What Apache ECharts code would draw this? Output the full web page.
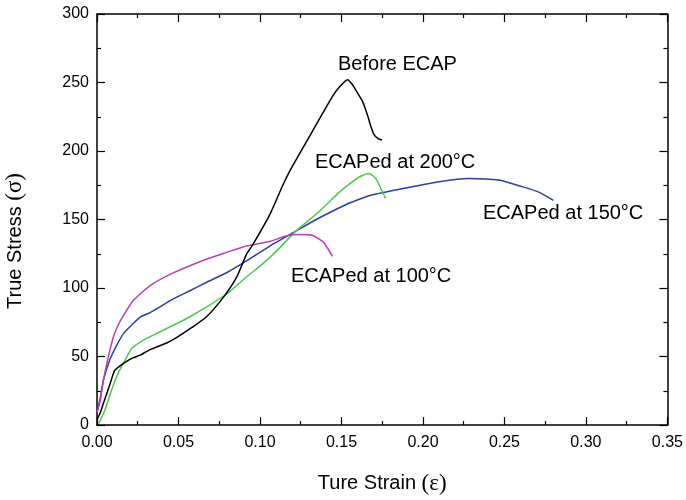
<!DOCTYPE html>
<html><head><meta charset="utf-8">
<script src="https://cdn.jsdelivr.net/npm/echarts@6/dist/echarts.min.js"></script>
<style>html,body{margin:0;padding:0;background:#fff}#c{width:686px;height:500px}</style>
</head><body><div id="c"></div>
<script>
// Before ECAP
const beforeStrain = [0,0.002,0.004,0.008,0.011,0.0163,0.022,0.0265,0.0326,0.043,0.049,0.058,0.067,0.0774,0.0856,0.0917,0.0957,0.106,0.114,0.119,0.132,0.1446,0.149,0.1537,0.157,0.16,0.163,0.166,0.168,0.170,0.1725,0.175];
const beforeStress = [4,9,16,30,40,45,49,51,55,60,64,71,78.8,93,107.7,124.6,131.8,153.5,175,187,214,240,247,252,248,242,236,226,218,212,209,208];
// ECAPed at 200°C
const e200Strain = [0.001,0.005,0.009,0.013,0.0173,0.0214,0.0285,0.0326,0.0468,0.057,0.067,0.08,0.0917,0.104,0.111,0.122,0.1365,0.1487,0.155,0.161,0.167,0.171,0.174,0.177];
const e200Stress = [1,11.3,25.8,37.8,47.5,56,62,64.5,72.8,79,86,96,108,120,128,141.5,156,170,176,181,183.5,180,173,165.5];
// ECAPed at 150°C
const e150Strain = [0,0.002,0.004,0.008,0.012,0.0163,0.0265,0.0326,0.0468,0.057,0.067,0.08,0.0917,0.106,0.122,0.1345,0.1487,0.155,0.169,0.1895,0.21,0.228,0.2465,0.2608,0.271,0.280];
const e150Stress = [9,20,33,48,58,66.7,78.8,82,92,98,104,111.5,119.8,130.6,141.5,150,158.6,162,168,173,177.6,180,178.8,174,170,164];
// ECAPed at 100°C
const e100Strain = [0,0.002,0.004,0.007,0.010,0.013,0.0163,0.0224,0.0326,0.0468,0.067,0.0795,0.0917,0.106,0.116,0.125,0.132,0.1385,0.1415,0.1445];
const e100Stress = [9,18,33,50,64,73,80,91,101.7,111,121,126,130.7,134,138,139,138.5,134,129,123];

const xTicks = [0,0.05,0.10,0.15,0.20,0.25,0.30,0.35];
const yTicks = [0,50,100,150,200,250,300];

const zip = (a,b)=>a.map((v,i)=>[v,b[i]]);
const chart = echarts.init(document.getElementById('c'), null, {renderer:'canvas'});
const FONT = 'Liberation Sans, Arial, sans-serif';
const SERIF = 'Liberation Serif, Times New Roman, serif';
const axisCommon = {
  min: 0,
  axisLine:{show:true,onZero:false,lineStyle:{color:'#000',width:1.5}},
  axisTick:{show:true,inside:true,length:8,lineStyle:{color:'#000',width:1.2}},
  minorTick:{show:true,splitNumber:2,length:4,lineStyle:{color:'#000',width:1.2}},
  splitLine:{show:false}
};
function line(name,data,color){
  return {type:'line',name,data,showSymbol:false,symbol:'none',smooth:0.2,
    lineStyle:{color,width:1.5},itemStyle:{color},z:3,animation:false};
}
const titleRich = {a:{fontSize:20,fontFamily:FONT,fill:'#000',color:'#000'},b:{fontSize:23,fontFamily:SERIF,fill:'#000',color:'#000'}};
chart.setOption({
  animation:false,
  backgroundColor:'#fff',
  grid:{left:97,right:17,top:14,bottom:71,show:false},
  xAxis:[
    Object.assign({},axisCommon,{type:'value',position:'bottom',max:0.35,interval:0.05,
      axisLabel:{show:true,fontSize:16,color:'#000',fontFamily:FONT,margin:10,
        formatter:v=>{const t=xTicks.find(k=>Math.abs(k-v)<1e-9);return (t===undefined?v:t).toFixed(2);}},
      name:'{a|Ture Strain }{b|(ε)}',nameLocation:'middle',nameGap:47,
      nameTextStyle:{rich:titleRich}}),
    Object.assign({},axisCommon,{type:'value',position:'top',max:0.35,interval:0.05,axisLabel:{show:false}})
  ],
  yAxis:[
    Object.assign({},axisCommon,{type:'value',position:'left',max:300,interval:50,
      axisLabel:{show:true,fontSize:16,color:'#000',fontFamily:FONT,margin:8,
        formatter:v=>String(yTicks.find(k=>k===v) ?? v)}}),
    Object.assign({},axisCommon,{type:'value',position:'right',max:300,interval:50,axisLabel:{show:false}})
  ],
  series:[
    line('ECAPed at 150°C',zip(e150Strain,e150Stress),'#2b3ea8'),
    line('ECAPed at 200°C',zip(e200Strain,e200Stress),'#4cc84c'),
    line('ECAPed at 100°C',zip(e100Strain,e100Stress),'#c03cb4'),
    line('Before ECAP',zip(beforeStrain,beforeStress),'#000000')
  ],
  graphic:[
    {type:'text',x:15,y:241,rotation:Math.PI/2,
      style:{text:'{a|True Stress }{b|(σ)}',rich:titleRich,align:'center',verticalAlign:'middle'}},
    {type:'text',left:338,top:54,style:{text:'Before ECAP',fontSize:20,fontFamily:FONT,fill:'#000'}},
    {type:'text',left:315,top:152,style:{text:'ECAPed at 200°C',fontSize:20,fontFamily:FONT,fill:'#000'}},
    {type:'text',left:483,top:203,style:{text:'ECAPed at 150°C',fontSize:20,fontFamily:FONT,fill:'#000'}},
    {type:'text',left:291,top:266,style:{text:'ECAPed at 100°C',fontSize:20,fontFamily:FONT,fill:'#000'}}
  ]
});
</script></body></html>
